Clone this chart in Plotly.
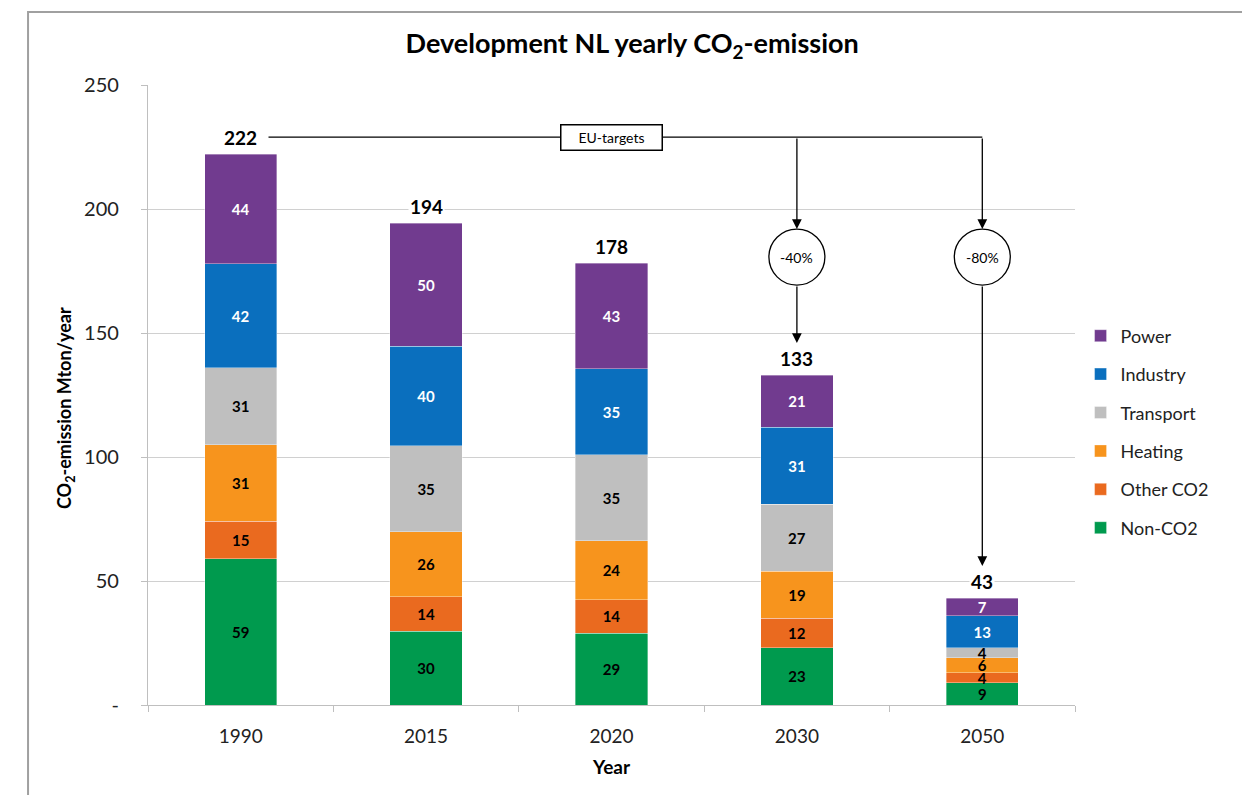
import plotly.graph_objects as go

# Emission data (Mton CO2-eq per year), stacked bottom to top
years = ["1990", "2015", "2020", "2030", "2050"]
non_co2 = [59, 29.8, 28.9, 23, 9]
other_co2 = [15, 13.8, 13.6, 12, 4]
heating = [31, 26.2, 23.8, 19, 6]
transport = [31, 34.7, 34.6, 27, 4]
industry = [42, 40.2, 34.7, 31, 13]
power = [44, 49.6, 42.6, 21, 7]

series = [
    ("Non-CO2", non_co2, "#009A4E", "black"),
    ("Other CO2", other_co2, "#EA6A1F", "black"),
    ("Heating", heating, "#F7941D", "black"),
    ("Transport", transport, "#BFBFBF", "black"),
    ("Industry", industry, "#0A6FBE", "white"),
    ("Power", power, "#713B8F", "white"),
]

# EU reduction targets relative to 1990
target_years = ["2030", "2050"]
target_labels = ["-40%", "-80%"]

FONT = "Lato, Calibri, Arial, sans-serif"

fig = go.Figure()
n = len(series)
for k, (name, vals, color, tcolor) in enumerate(series):
    fig.add_trace(go.Bar(
        x=years, y=vals, name=name, legendgroup=name, legendrank=n - k,
        marker=dict(color=color, line=dict(color="rgba(255,255,255,0.6)", width=0.6)),
        text=[f"{round(v)}" for v in vals],
        textposition="inside", insidetextanchor="middle", textangle=0,
        constraintext="none",
        textfont=dict(family=FONT, size=15, color=tcolor, weight="bold"),
        hoverinfo="skip",
    ))

totals = [sum(s[1][i] for s in series) for i in range(len(years))]

# invisible helper trace on a numeric overlay axis for the annotation layer
fig.add_trace(go.Scatter(x=[-0.5, len(years) - 0.5], y=[0, 0], xaxis="x2", yaxis="y",
                         mode="markers", marker=dict(opacity=0), showlegend=False,
                         hoverinfo="skip"))

annotations = []
shapes = []

# Totals above each stack
for i, tot in enumerate(totals):
    annotations.append(dict(
        x=i, y=tot, xref="x2", yref="y", text=f"<b>{round(tot)}</b>",
        showarrow=False, yanchor="bottom", yshift=3, bgcolor="white",
        font=dict(family=FONT, size=19, color="black"),
    ))

# EU-targets connector line
line_y = 229
circle_y = 180.6
circle_r_px = 28
circle_r = circle_r_px / 2.48
shapes.append(dict(type="line", xref="x2", yref="y", x0=0.15, x1=4, y0=line_y, y1=line_y,
                   line=dict(color="black", width=1.3), layer="above"))
annotations.append(dict(
    x=2, y=line_y, xref="x2", yref="y", text="EU-targets", showarrow=False,
    bgcolor="white", bordercolor="black", borderwidth=1.5, width=96, height=20, borderpad=2,
    font=dict(family=FONT, size=14, color="black"),
))

for yr, lbl in zip(target_years, target_labels):
    idx = years.index(yr)
    tot = totals[idx]
    # arrow from connector down to circle
    annotations.append(dict(
        x=idx, y=circle_y + circle_r, ax=idx, ay=line_y, xref="x2", yref="y",
        axref="x2", ayref="y", text="", showarrow=True, arrowhead=2, arrowsize=1.5,
        arrowwidth=1.3, arrowcolor="black",
    ))
    # circle with target
    shapes.append(dict(type="circle", xref="x2", yref="y", xsizemode="pixel", ysizemode="pixel",
                       xanchor=idx, yanchor=circle_y, x0=-circle_r_px, x1=circle_r_px,
                       y0=-circle_r_px, y1=circle_r_px, fillcolor="white",
                       line=dict(color="black", width=1.3), layer="above"))
    annotations.append(dict(
        x=idx, y=circle_y, xref="x2", yref="y", text=lbl, showarrow=False,
        font=dict(family=FONT, size=14, color="black"),
    ))
    # arrow from circle down to the stack total
    annotations.append(dict(
        x=idx, y=tot + 13, ax=idx, ay=circle_y - circle_r, xref="x2", yref="y",
        axref="x2", ayref="y", text="", showarrow=True, arrowhead=2, arrowsize=1.5,
        arrowwidth=1.3, arrowcolor="black",
    ))

# Y-axis title placed as a rotated label
annotations.append(dict(
    x=-0.0895, y=0.479, xref="paper", yref="paper", textangle=-90, showarrow=False,
    text="<b>CO<sub>2</sub>-emission Mton/year</b>",
    font=dict(family=FONT, size=18, color="black"), xanchor="center", yanchor="middle",
))

# Outer chart frame
shapes.append(dict(type="rect", xref="paper", yref="paper", x0=-0.1294, x1=1.4,
                   y0=-0.3, y1=1.1177, line=dict(color="#A0A0A0", width=2), layer="below"))

fig.update_layout(
    width=1242, height=795,
    margin=dict(l=148, r=167, t=85, b=90),
    paper_bgcolor="white", plot_bgcolor="white",
    barmode="stack", bargap=0.61,
    font=dict(family=FONT, color="#222222"),
    title=dict(text="<b>Development NL yearly CO<sub>2</sub>-emission</b>",
               x=0.509, xanchor="center", y=0.945, yanchor="middle",
               font=dict(family=FONT, size=27, color="black")),
    showlegend=True,
    legend=dict(x=1.006, xanchor="left", y=0.625, yanchor="top",
                traceorder="grouped", tracegroupgap=12,
                font=dict(family=FONT, size=18, color="#222222"),
                itemwidth=30, bgcolor="rgba(0,0,0,0)"),
    annotations=annotations,
    shapes=shapes,
    xaxis2=dict(overlaying="x", range=[-0.5, len(years) - 0.5], visible=False,
                showgrid=False, zeroline=False, fixedrange=True),
)

fig.layout.xaxis.update(
    type="category", showgrid=False, showline=True, linecolor="#BFBFBF", linewidth=1.2,
    ticks="outside", tickson="boundaries", ticklen=6, tickcolor="#BFBFBF",
    tickfont=dict(family=FONT, size=19, color="#222222"), ticklabelstandoff=14,
    range=[-0.5, len(years) - 0.5],
    title=dict(text="<b>Year</b>", font=dict(family=FONT, size=19, color="black"), standoff=14),
)
fig.update_yaxes(
    range=[0, 250], tickvals=[0, 50, 100, 150, 200, 250],
    ticktext=["-", "50", "100", "150", "200", "250"],
    showgrid=True, gridcolor="#D0D0D0", gridwidth=1.2,
    showline=True, linecolor="#BFBFBF", linewidth=1.2,
    ticks="outside", ticklen=6, tickcolor="#BFBFBF",
    tickfont=dict(family=FONT, size=20, color="#222222"), ticklabelstandoff=18,
    zeroline=False,
)

fig.write_html("out.html")
